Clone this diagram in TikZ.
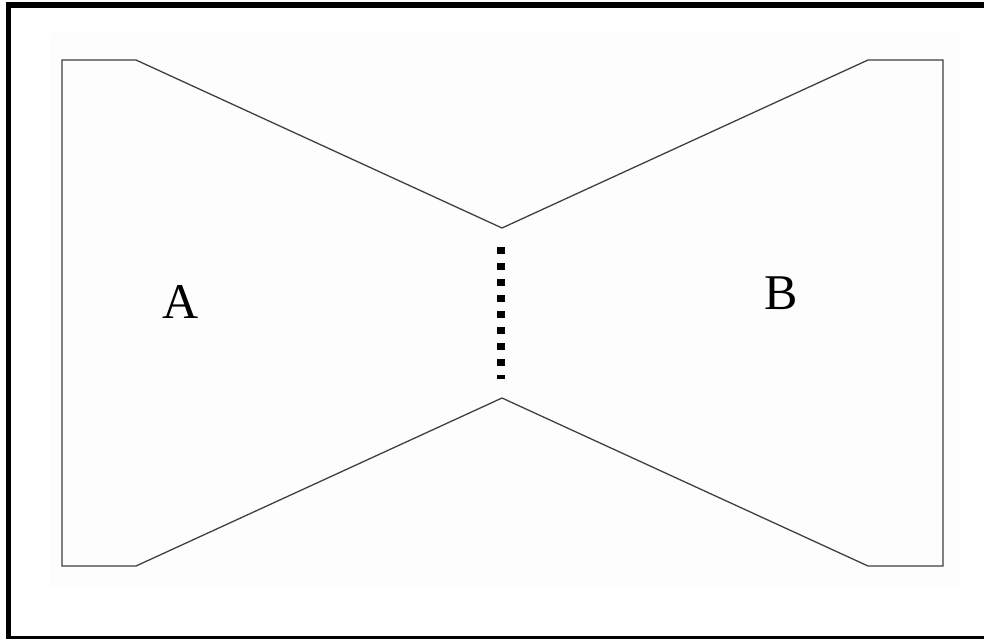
\documentclass[tikz,border=0pt]{standalone}
\usepackage{fontspec}
\setmainfont{Liberation Serif}
\begin{document}
\begin{tikzpicture}[x=1pt,y=-1pt,
  outline/.style={draw=black!75,line width=1.3pt,line join=miter},
  lbl/.style={font=\fontsize{50}{50}\selectfont,inner sep=0pt},
  gap/.style={draw=black,line width=8pt,dash pattern=on 7pt off 9pt}]
\useasboundingbox (0,0) rectangle (984,639);
\fill[white] (0,0) rectangle (984,639);
\fill[black!0.8] (50,33) rectangle (959,588);
% frame
\fill[black] (6,2) rectangle (984,8);
\fill[black] (6,2) rectangle (11,639);
\fill[black] (6,636) rectangle (984,639);
% outline
\coordinate (tl) at (62,60);
\coordinate (tl2) at (136,60);
\coordinate (top) at (502,228);
\coordinate (tr2) at (868,60);
\coordinate (tr) at (943,60);
\coordinate (br) at (943,566);
\coordinate (br2) at (868,566);
\coordinate (bot) at (502,398);
\coordinate (bl2) at (136,566);
\coordinate (bl) at (62,566);
\draw[outline] (tl) -- (tl2) -- (top) -- (tr2) -- (tr) -- (br) -- (br2) -- (bot) -- (bl2) -- (bl) -- cycle;
% dotted gap
\coordinate (g1) at (501,247);
\coordinate (g2) at (501,379);
\draw[gap] (g1) -- (g2);
\node[lbl] (A) at (181,302) {A};
\node[lbl] (B) at (781,293) {B};
\end{tikzpicture}
\end{document}
